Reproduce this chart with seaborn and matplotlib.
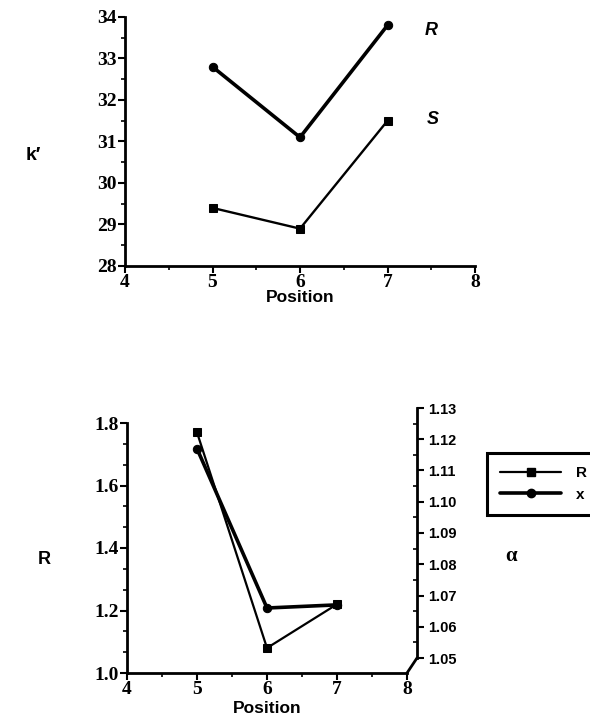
import matplotlib
matplotlib.use('Agg')
import matplotlib.pyplot as plt
import seaborn as sns
from matplotlib.ticker import AutoMinorLocator
from matplotlib.lines import Line2D

# data
positions = [5, 6, 7]
k_R = [32.8, 31.1, 33.8]
k_S = [29.4, 28.9, 31.5]
resolution = [1.77, 1.08, 1.22]
alpha_sel = [1.117, 1.066, 1.067]
legend_labels = ['R', 'x']

sns.set_style('ticks')
plt.rcParams['font.family'] = ['Liberation Sans', 'DejaVu Sans']
plt.rcParams['text.color'] = 'black'
plt.rcParams['axes.labelcolor'] = 'black'
plt.rcParams['axes.edgecolor'] = 'black'

W, H = 590, 726
fig = plt.figure(figsize=(W / 100, H / 100), dpi=100)


def box(l, t, r, b):
    return [l / W, 1 - b / H, (r - l) / W, (b - t) / H]


def style_ticks(ax, family, size, pad=2):
    ax.tick_params(axis='both', which='major', direction='out', length=5, width=1.5,
                   colors='black', pad=pad)
    ax.tick_params(axis='both', which='minor', direction='out', length=3, width=1.2,
                   colors='black')
    for lab in ax.get_yticklabels() + ax.get_xticklabels():
        lab.set_fontfamily(family)
        lab.set_fontweight('bold')
        lab.set_fontsize(size)


# ---- top panel: k' vs position ----
ax1 = fig.add_axes(box(125, 17, 475, 266))
sns.lineplot(x=positions, y=k_R, ax=ax1, color='black', lw=2.6, marker='o', ms=6,
             mec='black')
sns.lineplot(x=positions, y=k_S, ax=ax1, color='black', lw=1.7, marker='s', ms=6,
             mec='black')
ax1.set_xlim(4, 8)
ax1.set_ylim(28, 34)
ax1.set_xticks([4, 5, 6, 7, 8])
ax1.set_yticks(range(28, 35))
ax1.xaxis.set_minor_locator(AutoMinorLocator(2))
ax1.yaxis.set_minor_locator(AutoMinorLocator(2))
sns.despine(ax=ax1)
for s in ['left', 'bottom']:
    ax1.spines[s].set_linewidth(2)
style_ticks(ax1, 'Liberation Serif', 14, pad=1)
ax1.set_xlabel('Position', fontweight='bold', fontsize=12.5, labelpad=-1)
ax1.text(7.43, 33.68, 'R', fontstyle='italic', fontweight='bold', fontsize=13,
         va='center')
ax1.text(7.45, 31.52, 'S', fontstyle='italic', fontweight='bold', fontsize=13,
         va='center')
fig.text(33 / W, 1 - 155 / H, 'k\u2032', fontweight='bold', fontsize=14,
         ha='center', va='center')

# ---- bottom panel: resolution and alpha vs position ----
ax2 = fig.add_axes(box(127, 423, 407, 673))
sns.lineplot(x=positions, y=resolution, ax=ax2, color='black', lw=1.6, marker='s',
             ms=6, mec='black')
ax2.set_xlim(4, 8)
ax2.set_ylim(1.0, 1.8)
ax2.set_xticks([4, 5, 6, 7, 8])
ax2.set_yticks([1.0, 1.2, 1.4, 1.6, 1.8])
ax2.set_yticklabels(['1.0', '1.2', '1.4', '1.6', '1.8'])
ax2.xaxis.set_minor_locator(AutoMinorLocator(2))
ax2.yaxis.set_minor_locator(AutoMinorLocator(3))
sns.despine(ax=ax2)
for s in ['left', 'bottom']:
    ax2.spines[s].set_linewidth(2)
style_ticks(ax2, 'Liberation Serif', 14, pad=1)
ax2.set_xlabel('Position', fontweight='bold', fontsize=12.5, labelpad=2)

# alpha axis, drawn offset up and to the right like a 3-D frame
ax3 = fig.add_axes(box(137, 408, 417, 658))
ax3.patch.set_visible(False)
sns.lineplot(x=positions, y=alpha_sel, ax=ax3, color='black', lw=2.6, marker='o',
             ms=6, mec='black')
ax3.set_xlim(4 + 10 / 70, 8 + 10 / 70)
ax3.set_ylim(1.05, 1.13)
ax3.set_yticks([1.05, 1.06, 1.07, 1.08, 1.09, 1.10, 1.11, 1.12, 1.13])
ax3.set_yticklabels(['1.05', '1.06', '1.07', '1.08', '1.09', '1.10', '1.11',
                     '1.12', '1.13'])
ax3.yaxis.set_minor_locator(AutoMinorLocator(2))
ax3.set_xticks([])
for s in ['left', 'top', 'bottom']:
    ax3.spines[s].set_visible(False)
ax3.spines['right'].set_linewidth(2)
ax3.yaxis.tick_right()
style_ticks(ax3, 'Liberation Sans', 10.5, pad=3)
ax3.tick_params(axis='y', which='minor', direction='in', length=3)
fig.add_artist(Line2D([407 / W, 417 / W], [1 - 673 / H, 1 - 658 / H],
                      color='black', lw=2))

fig.text(44 / W, 1 - 560 / H, 'R', fontweight='bold', fontsize=13,
         ha='center', va='center')
fig.text(511 / W, 1 - 556 / H, '\u03b1', fontfamily='Liberation Serif',
         fontweight='bold', fontsize=15, ha='center', va='center')

handles = [Line2D([], [], color='black', lw=1.6, marker='s', ms=6),
           Line2D([], [], color='black', lw=2.6, marker='o', ms=6)]
leg = fig.legend(handles, legend_labels, loc='upper left',
                 bbox_to_anchor=(487 / W, 1 - 453 / H), frameon=True,
                 fancybox=False, framealpha=1, handlelength=4.0, borderpad=0.85,
                 labelspacing=0.5, handletextpad=1.0, borderaxespad=0,
                 labelcolor='black', prop={'weight': 'bold', 'size': 11})
leg.get_frame().set_edgecolor('black')
leg.get_frame().set_linewidth(2.2)

fig.savefig('out.png', dpi=100)
